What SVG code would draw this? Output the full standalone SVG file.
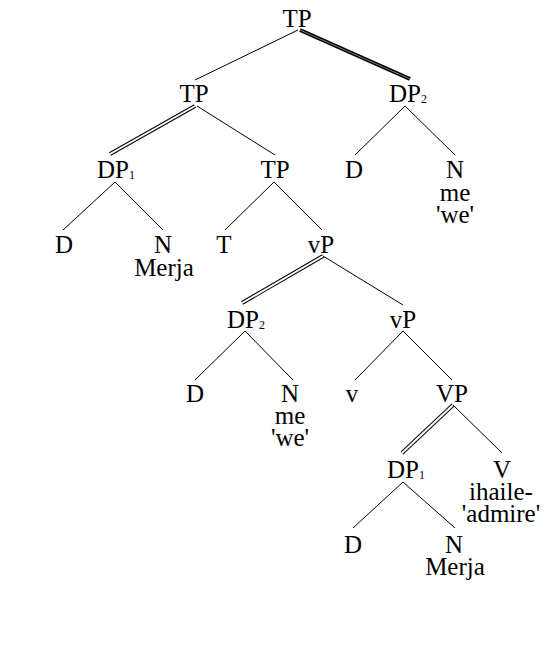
<svg xmlns="http://www.w3.org/2000/svg" width="559" height="645" viewBox="0 0 559 645">
<style>
text{font-family:"Liberation Serif","Times New Roman",serif;font-size:25px;fill:#000}
.m{text-anchor:middle}
.sub{font-size:12px}
.s{stroke:#000;stroke-width:1;fill:none}
.dbo{stroke:#000;stroke-width:4;fill:none}
.dbi{stroke:#fff;stroke-width:2;fill:none}
.hv{stroke:#000;stroke-width:4;fill:none}
.hvi{stroke:#fff;stroke-width:0.8;fill:none;stroke-opacity:0.6}
</style>
<rect width="559" height="645" fill="#fff"/>
<g id="connectors">
<line class="s" x1="298" y1="30" x2="195" y2="80"/>
<line class="hv" x1="300" y1="30" x2="410" y2="79"/>
<line class="hvi" x1="300" y1="30" x2="410" y2="79"/>
<line class="dbo" x1="195" y1="106" x2="110" y2="154"/>
<line class="dbi" x1="195" y1="106" x2="110" y2="154"/>
<line class="s" x1="197" y1="106" x2="275" y2="155"/>
<line class="s" x1="405" y1="106" x2="355" y2="155"/>
<line class="s" x1="405" y1="106" x2="455" y2="155"/>
<line class="s" x1="115" y1="182" x2="63" y2="230"/>
<line class="s" x1="115" y1="182" x2="163" y2="230"/>
<line class="s" x1="274" y1="182" x2="225" y2="230"/>
<line class="s" x1="274" y1="182" x2="322" y2="230"/>
<line class="dbo" x1="323" y1="256" x2="242" y2="303"/>
<line class="dbi" x1="323" y1="256" x2="242" y2="303"/>
<line class="s" x1="323" y1="256" x2="403" y2="305"/>
<line class="s" x1="245" y1="331" x2="195" y2="380"/>
<line class="s" x1="245" y1="331" x2="293" y2="380"/>
<line class="s" x1="403" y1="331" x2="355" y2="380"/>
<line class="s" x1="403" y1="331" x2="452" y2="380"/>
<line class="dbo" x1="453" y1="405" x2="402" y2="453"/>
<line class="dbi" x1="453" y1="405" x2="402" y2="453"/>
<line class="s" x1="453" y1="405" x2="502" y2="453"/>
<line class="s" x1="403" y1="482" x2="353" y2="528"/>
<line class="s" x1="403" y1="482" x2="455" y2="528"/>
</g>
<g id="TP0"><text class="m" x="297" y="27">TP</text></g>
<g id="TP1"><text class="m" x="194" y="102">TP</text></g>
<g id="DP2a"><text x="389" y="102">DP<tspan class="sub" dy="1">2</tspan></text></g>
<g id="DP1a"><text x="97" y="178">DP<tspan class="sub" dy="1">1</tspan></text></g>
<g id="TP2"><text class="m" x="275" y="178">TP</text></g>
<g id="D1"><text class="m" x="354" y="178">D</text></g>
<g id="N1"><text class="m" x="455" y="178">N</text><text class="m" x="455" y="201">me</text><text class="m" x="455" y="223">'we'</text></g>
<g id="D2"><text class="m" x="64" y="253">D</text></g>
<g id="N2"><text class="m" x="163" y="253">N</text><text class="m" x="164" y="276">Merja</text></g>
<g id="T"><text class="m" x="224" y="253">T</text></g>
<g id="vP1"><text class="m" x="321" y="253">vP</text></g>
<g id="DP2b"><text x="227" y="328">DP<tspan class="sub" dy="1">2</tspan></text></g>
<g id="vP2"><text class="m" x="403" y="328">vP</text></g>
<g id="D3"><text class="m" x="195" y="402">D</text></g>
<g id="N3"><text class="m" x="290" y="402">N</text><text class="m" x="290" y="424">me</text><text class="m" x="290" y="446">'we'</text></g>
<g id="v"><text class="m" x="352" y="402">v</text></g>
<g id="VP"><text class="m" x="452" y="402">VP</text></g>
<g id="DP1b"><text x="387" y="478">DP<tspan class="sub" dy="1">1</tspan></text></g>
<g id="V"><text class="m" x="502" y="478">V</text><text class="m" x="501" y="500">ihaile-</text><text class="m" x="501" y="522">'admire'</text></g>
<g id="D4"><text class="m" x="353" y="553">D</text></g>
<g id="N4"><text class="m" x="454" y="553">N</text><text class="m" x="455" y="575">Merja</text></g>
</svg>
